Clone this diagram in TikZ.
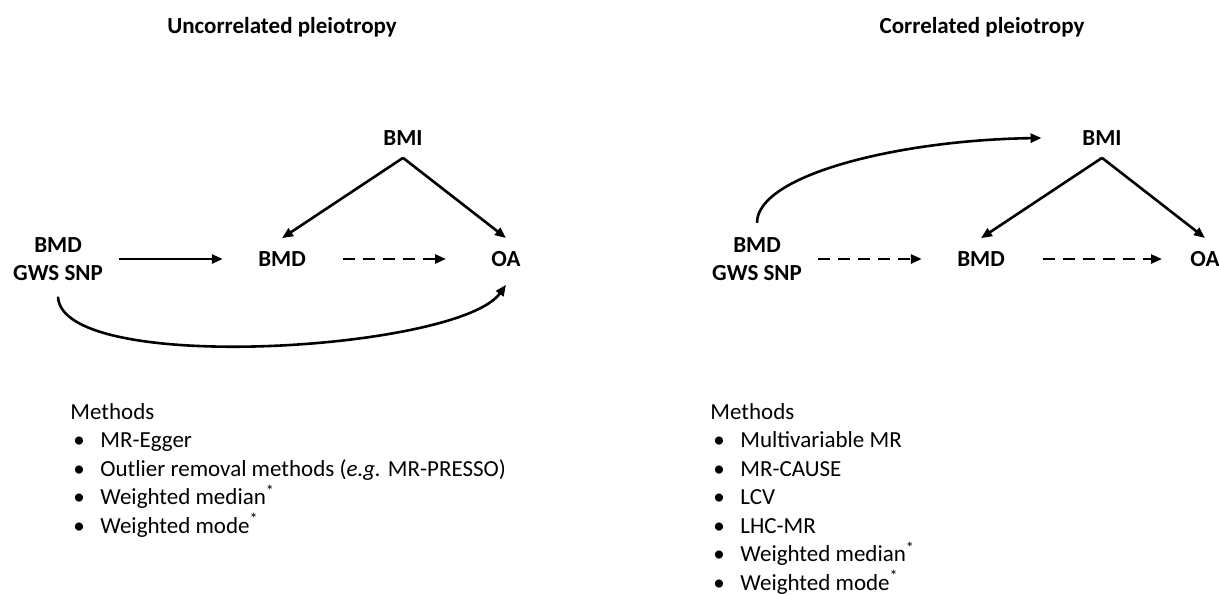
\documentclass[tikz,border=0pt]{standalone}
\usepackage{fontspec}
\setmainfont{Carlito}
\usetikzlibrary{arrows.meta}
\newcommand{\mitem}{\makebox[15pt][l]{\hspace{1.5pt}\textbullet}}
\tikzset{
  var/.style={font=\fontsize{11.5}{14.25}\selectfont\bfseries, inner sep=0pt, align=center},
  ttl/.style={font=\fontsize{11.5}{14.25}\selectfont\bfseries, inner sep=0pt},
  methods/.style={font=\fontsize{11.5}{14.25}\selectfont, inner sep=0pt, align=left, anchor=north west},
  effect/.style={line width=1.3pt, -{Triangle[length=5.5pt,width=4.5pt]}},
  unsure/.style={effect, dash pattern=on 6pt off 4pt},
}
\begin{document}
\begin{tikzpicture}[x=0.5pt,y=-0.5pt]
  \useasboundingbox (0,0) rectangle (1219,594);
  % uncorrelated pleiotropy
  \node[ttl] (t1) at (282,27) {Uncorrelated pleiotropy};
  \node[var] (bmi1) at (403,138) {BMI};
  \node[var] (snp1) at (58,259) {BMD\\GWS SNP};
  \node[var] (bmd1) at (282,259) {BMD};
  \node[var] (oa1) at (506,259) {OA};
  \draw[effect, shorten <=8pt, shorten >=17.5pt] (snp1.east |- bmd1) -- (bmd1.west);
  \draw[unsure, shorten <=18.5pt, shorten >=22.5pt] (bmd1.east) -- (oa1.west);
  \draw[effect] ([yshift=-6pt]bmi1.south) -- ([yshift=6.5pt]bmd1.north);
  \draw[effect] ([yshift=-6pt]bmi1.south) -- ([yshift=6.5pt]oa1.north);
  \draw[effect] ([yshift=-7.75pt]snp1.south) .. controls +(3,79) and +(-47,66) .. ([yshift=-8.9pt]oa1.south);
  \node[methods] (m1) at (70,403) {Methods\\
    \mitem MR-Egger\\
    \mitem Outlier removal methods (\emph{e.g.} MR-PRESSO)\\
    \mitem Weighted median\textsuperscript{*}\\
    \mitem Weighted mode\textsuperscript{*}};
  % correlated pleiotropy
  \node[ttl] (t2) at (982,27) {Correlated pleiotropy};
  \node[var] (bmi2) at (1102,138) {BMI};
  \node[var] (snp2) at (757,259) {BMD\\GWS SNP};
  \node[var] (bmd2) at (981,259) {BMD};
  \node[var] (oa2) at (1205,259) {OA};
  \draw[unsure, shorten <=8pt, shorten >=17.5pt] (snp2.east |- bmd2) -- (bmd2.west);
  \draw[unsure, shorten <=19pt, shorten >=14pt] (bmd2.east) -- (oa2.west);
  \draw[effect] ([yshift=-6pt]bmi2.south) -- ([yshift=6.5pt]bmd2.north);
  \draw[effect] ([yshift=-6pt]bmi2.south) -- ([yshift=6.5pt]oa2.north);
  \draw[effect] ([yshift=7pt]snp2.north) .. controls +(0,-48) and +(-142,2) .. ([xshift=-20.25pt]bmi2.west);
  \node[methods] (m2) at (710,403) {Methods\\
    \mitem Multivariable MR\\
    \mitem MR-CAUSE\\
    \mitem LCV\\
    \mitem LHC-MR\\
    \mitem Weighted median\textsuperscript{*}\\
    \mitem Weighted mode\textsuperscript{*}};
\end{tikzpicture}
\end{document}
